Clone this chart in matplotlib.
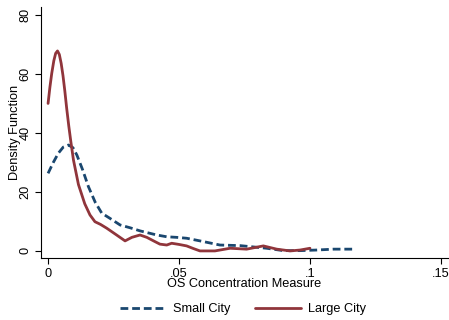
import matplotlib
matplotlib.use("Agg")
import matplotlib.pyplot as plt

plt.rcParams['font.family'] = ['Liberation Sans', 'DejaVu Sans']

# Kernel density estimates of the OS concentration measure
small_x = [0.0, 0.002, 0.0039, 0.0058, 0.0078, 0.0095, 0.011, 0.0132, 0.0154, 0.018,
           0.0205, 0.0237, 0.0275, 0.0315, 0.0351, 0.0415, 0.0453, 0.0491, 0.0529,
           0.058, 0.0656, 0.0733, 0.0835, 0.0898, 0.0962, 0.1025, 0.109, 0.1166]
small_y = [26.3, 30.0, 33.1, 35.2, 35.9, 35.0, 32.5, 27.5, 21.8, 16.5,
           12.8, 11.0, 8.8, 7.8, 6.8, 5.4, 4.8, 4.6, 4.3,
           3.4, 2.0, 1.8, 0.9, 0.1, 0.1, 0.3, 0.6, 0.6]

large_x = [0.0, 0.0007, 0.0014, 0.0022, 0.0029, 0.0036, 0.0043, 0.0050, 0.0057, 0.0064,
           0.0071, 0.0079, 0.0087, 0.0097, 0.0116, 0.0140,
           0.0160, 0.0179, 0.0200, 0.0224, 0.0260, 0.0294, 0.0320, 0.0351, 0.0377,
           0.0405, 0.0427, 0.0453, 0.0472, 0.0500, 0.0529, 0.0555, 0.058, 0.0637,
           0.0695, 0.0758, 0.0822, 0.0873, 0.0924, 0.0962, 0.1]
large_y = [50.0, 55.5, 60.2, 64.5, 67.0, 67.8, 66.6, 63.6, 59.4, 54.2,
           48.4, 42.4, 37.0, 30.8, 22.5, 16.0,
           12.2, 9.9, 9.0, 7.7, 5.5, 3.4, 4.6, 5.4, 4.6,
           3.3, 2.3, 2.0, 2.6, 2.2, 1.7, 0.8, 0.0, 0.0,
           0.9, 0.6, 1.7, 0.6, 0.0, 0.3, 0.9]

xticks = [0, 0.05, 0.1, 0.15]
xticklabels = ['0', '.05', '.1', '.15']
yticks = [0, 20, 40, 60, 80]

navy = '#1a476f'
maroon = '#90353b'
fs = 9.2

fig = plt.figure(figsize=(4.49, 3.2), dpi=100)
ax = fig.add_axes([41 / 449, 1 - 258 / 320, (448 - 41) / 449, (258 - 7) / 320])

ax.plot(small_x, small_y, color=navy, lw=2.0, dashes=(2.8, 1.4), label='Small City',
        solid_joinstyle='round', dash_capstyle='butt')
ax.plot(large_x, large_y, color=maroon, lw=2.0, label='Large City',
        solid_joinstyle='round', solid_capstyle='round')

ax.set_xlim(-0.0027, 0.1527)
ax.set_ylim(-2.4, 82.7)
ax.set_xticks(xticks)
ax.set_xticklabels(xticklabels)
ax.set_yticks(yticks)
for lab in ax.get_yticklabels():
    lab.set_rotation(90)
    lab.set_va('center')

ax.spines['top'].set_visible(False)
ax.spines['right'].set_visible(False)
for s in ('left', 'bottom'):
    ax.spines[s].set_linewidth(0.8)
ax.tick_params(direction='out', length=4, width=0.8, labelsize=fs, pad=3, colors='black')

ax.set_xlabel('OS Concentration Measure', fontsize=fs, labelpad=-1)
ax.set_ylabel('Density Function', fontsize=fs, labelpad=-1)

fig.legend(loc='center', bbox_to_anchor=(243 / 449, 1 - 309 / 320), ncol=2, frameon=False,
           fontsize=fs, handlelength=3.6, columnspacing=1.9, handletextpad=0.6)

fig.savefig('out.png', dpi=100)
